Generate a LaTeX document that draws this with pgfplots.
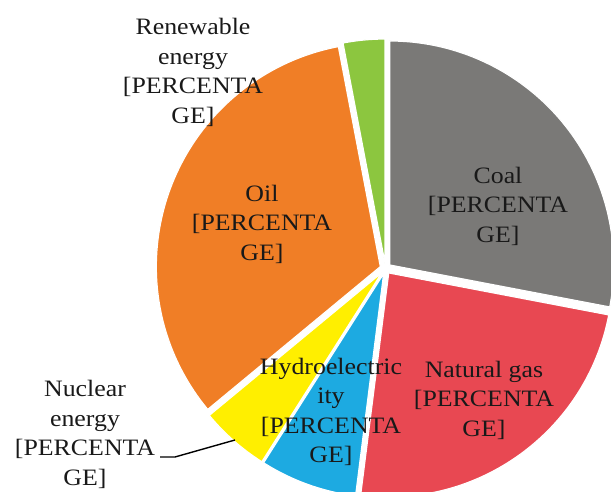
\documentclass[border=0pt]{standalone}
\usepackage{pgfplots}
\usepackage{pgfplotstable}
\pgfplotsset{compat=1.18}
\usepackage{fontspec}
\setmainfont{Liberation Serif}[FakeStretch=1.1]
\definecolor{slice0}{RGB}{122,121,119}
\definecolor{slice1}{RGB}{232,72,82}
\definecolor{slice2}{RGB}{29,170,225}
\definecolor{slice3}{RGB}{255,239,0}
\definecolor{slice4}{RGB}{240,126,38}
\definecolor{slice5}{RGB}{140,198,63}
\pgfplotstableread{
label pct
Coal 28
NaturalGas 24
Hydroelectricity 7
Nuclear 5
Oil 33
Renewable 3
}\piedata
\begin{document}
\begin{tikzpicture}
\def\pcx{385.5}\def\pcy{223.5}\def\prad{224}\def\pexp{5.5}
\xdef\cum{90}
\foreach \i in {0,...,5}{%
  \pgfplotstablegetelem{\i}{pct}\of\piedata
  \pgfmathsetmacro\s{\cum}%
  \pgfmathsetmacro\e{\cum-3.6*\pgfplotsretval}%
  \pgfmathsetmacro\m{(\s+\e)/2}%
  \pgfmathsetmacro\ccx{\pcx+\pexp*cos(\m)}%
  \pgfmathsetmacro\ccy{\pcy+\pexp*sin(\m)}%
  \expandafter\xdef\csname sa\i\endcsname{\s}%
  \expandafter\xdef\csname ea\i\endcsname{\e}%
  \expandafter\xdef\csname cx\i\endcsname{\ccx}%
  \expandafter\xdef\csname cy\i\endcsname{\ccy}%
  \xdef\cum{\e}%
}
\begin{axis}[name=ax, x=1pt, y=1pt, xmin=0, xmax=611, ymin=0, ymax=492,
  hide axis, clip=true]
\pgfplotsinvokeforeach{0,...,5}{
  \fill[slice#1, draw=white, line width=1.2pt]
    (axis cs:\csname cx#1\endcsname,\csname cy#1\endcsname)
    -- ++(\csname sa#1\endcsname:\prad pt)
    arc[start angle=\csname sa#1\endcsname, end angle=\csname ea#1\endcsname, radius=\prad pt]
    -- cycle;
}
\draw[black, line width=1.4pt] (axis cs:160,35) -- (axis cs:175,35) -- (axis cs:235,52);
\begin{scope}[every node/.style={align=center, inner sep=0pt, text=black!90, font=\fontsize{23.5}{29.5}\selectfont}]
\node at (axis cs:498,286) {Coal\\{[}PERCENTA\\GE{]}};
\node at (axis cs:484,92) {Natural gas\\{[}PERCENTA\\GE{]}};
\node at (axis cs:331,80) {Hydroelectric\\ity\\{[}PERCENTA\\GE{]}};
\node at (axis cs:262,268) {Oil\\{[}PERCENTA\\GE{]}};
\node at (axis cs:85,57.5) {Nuclear\\energy\\{[}PERCENTA\\GE{]}};
\node at (axis cs:193,419.5) {Renewable\\energy\\{[}PERCENTA\\GE{]}};
\end{scope}
\end{axis}
\pgfresetboundingbox
\useasboundingbox (ax.south west) rectangle (ax.north east);
\end{tikzpicture}
\end{document}
